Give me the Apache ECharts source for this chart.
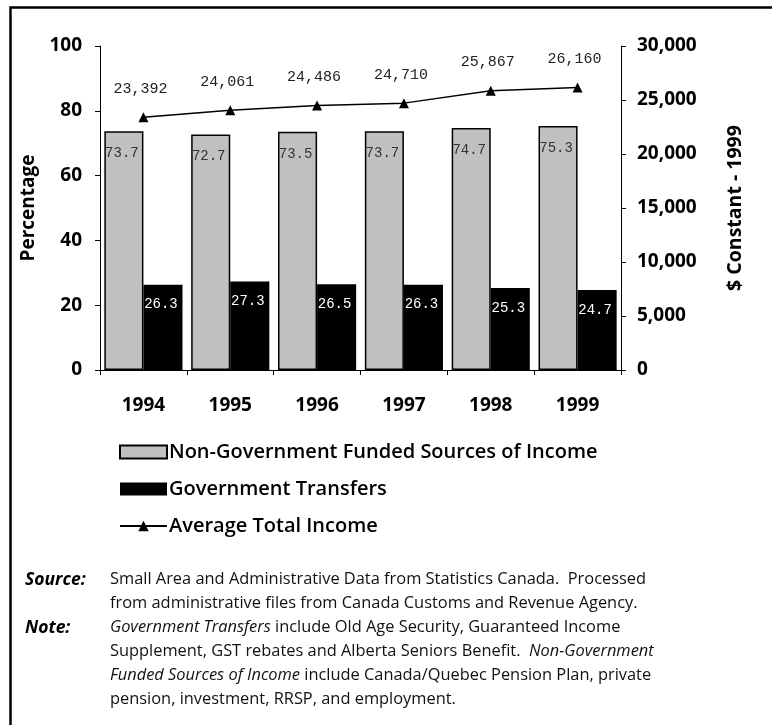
<!DOCTYPE html>
<html>
<head>
<meta charset="utf-8">
<script src="https://cdn.jsdelivr.net/npm/echarts@6/dist/echarts.min.js"></script>
<style>
html,body{margin:0;padding:0;background:#fff;}
#c{width:772px;height:725px;}
</style>
</head>
<body>
<div id="c"></div>
<script>
const years = ['1994','1995','1996','1997','1998','1999'];
const nonGov = [73.7, 72.7, 73.5, 73.7, 74.7, 75.3];
const govTransfers = [26.3, 27.3, 26.5, 26.3, 25.3, 24.7];
const avgIncome = [23392, 24061, 24486, 24710, 25867, 26160];
const leftTicks = {min: 0, max: 100, interval: 20};
const rightTicks = {min: 0, max: 30000, interval: 5000};
const seriesNames = ['Non-Government Funded Sources of Income', 'Government Transfers', 'Average Total Income'];

const SANS = '"Open Sans", "Noto Sans", sans-serif';
const MONO = '"Liberation Mono", "DejaVu Sans Mono", monospace';
const fmt = v => String(v).replace(/\B(?=(\d{3})+(?!\d))/g, ',');

const chart = echarts.init(document.getElementById('c'), null, {renderer: 'canvas'});

const NOTE_FS = 16.4;
const noteFont = {fontFamily: SANS, fontSize: NOTE_FS, fill: '#111'};
function noteLine(x, y, text, rich) {
  return {
    type: 'text', left: x, top: y, silent: true,
    style: Object.assign({text: text, rich: rich || {}}, noteFont)
  };
}
const richI = {i: {fontFamily: SANS, fontSize: NOTE_FS, fontStyle: 'italic', fill: '#111'}};
const richB = {fontFamily: SANS, fontSize: 17.5, fontStyle: 'italic', fontWeight: 'bold', fill: '#000'};

chart.setOption({
  animation: false,
  backgroundColor: '#fff',
  grid: {left: 100, right: 151, top: 46, bottom: 355, containLabel: false},
  legend: {
    orient: 'vertical', left: 114, top: 437,
    itemWidth: 47, itemHeight: 13, itemGap: 17,
    data: [
      {name: seriesNames[0], icon: 'rect'},
      {name: seriesNames[1], icon: 'rect'},
      {name: seriesNames[2]}
    ],
    textStyle: {fontFamily: SANS, fontSize: 20, fontWeight: 600, color: '#000', lineHeight: 20, padding: [0,0,0,-3]}
  },
  xAxis: {
    type: 'category', data: years,
    axisLine: {lineStyle: {color: '#000', width: 1}},
    axisTick: {show: true, length: 5, lineStyle: {color: '#000'}},
    axisLabel: {margin: 26, fontFamily: SANS, fontSize: 19, fontWeight: 'bold', color: '#000'}
  },
  yAxis: [
    {
      type: 'value', min: leftTicks.min, max: leftTicks.max, interval: leftTicks.interval,
      name: 'Percentage', nameLocation: 'middle', nameGap: 46, nameRotate: 90,
      nameTextStyle: {fontFamily: SANS, fontSize: 19, fontWeight: 'bold', color: '#000'},
      axisLine: {show: true, lineStyle: {color: '#000', width: 1}},
      axisTick: {show: true, length: 5, lineStyle: {color: '#000'}},
      splitLine: {show: false},
      axisLabel: {margin: 18, fontFamily: SANS, fontSize: 19, fontWeight: 'bold', color: '#000'}
    },
    {
      type: 'value', min: rightTicks.min, max: rightTicks.max, interval: rightTicks.interval,
      position: 'right',
      name: '$ Constant - 1999', nameLocation: 'middle', nameGap: 104, nameRotate: 90,
      nameTextStyle: {fontFamily: SANS, fontSize: 19.5, fontWeight: 'bold', color: '#000'},
      axisLine: {show: true, lineStyle: {color: '#000', width: 1}},
      axisTick: {show: true, length: 5, lineStyle: {color: '#000'}},
      splitLine: {show: false},
      axisLabel: {margin: 16, fontFamily: SANS, fontSize: 19, fontWeight: 'bold', color: '#000', formatter: v => fmt(v)}
    }
  ],
  series: [
    {
      name: seriesNames[0], type: 'bar', data: nonGov, yAxisIndex: 0,
      barGap: 0, barCategoryGap: '10%',
      itemStyle: {color: '#c0c0c0', borderColor: '#000', borderWidth: 1.5},
      label: {show: true, position: 'insideTop', distance: 14, offset: [-2, 1],
        fontFamily: MONO, fontSize: 14, color: '#333', formatter: p => p.value.toFixed(1)}
    },
    {
      name: seriesNames[1], type: 'bar', data: govTransfers, yAxisIndex: 0,
      barGap: 0, barCategoryGap: '10%',
      itemStyle: {color: '#000'},
      label: {show: true, position: 'insideTop', distance: 12, offset: [-2, 1],
        fontFamily: MONO, fontSize: 14, color: '#fff', formatter: p => p.value.toFixed(1)}
    },
    {
      name: seriesNames[2], type: 'line', data: avgIncome, yAxisIndex: 1,
      symbol: 'triangle', symbolSize: 10,
      lineStyle: {color: '#000', width: 1.5},
      itemStyle: {color: '#000'},
      label: {show: true, position: 'top', distance: 16, offset: [-3, 0],
        fontFamily: MONO, fontSize: 15, color: '#222', formatter: p => fmt(p.value)}
    }
  ],
  graphic: [
    {type: 'polyline', silent: true, shape: {points: [[10.5, 725], [10.5, 7.5], [772, 7.5]]},
     style: {stroke: '#000', lineWidth: 2.5, fill: null}},
    {type: 'text', left: 25, top: 571, silent: true, style: Object.assign({text: 'Source:'}, richB)},
    noteLine(110, 571, 'Small Area and Administrative Data from Statistics Canada.  Processed'),
    noteLine(110, 595, 'from administrative files from Canada Customs and Revenue Agency.'),
    {type: 'text', left: 25, top: 619, silent: true, style: Object.assign({text: 'Note:'}, richB)},
    noteLine(110, 619, '{i|Government Transfers} include Old Age Security, Guaranteed Income', richI),
    noteLine(110, 643, 'Supplement, GST rebates and Alberta Seniors Benefit.  {i|Non-Government}', richI),
    noteLine(110, 667, '{i|Funded Sources of Income} include Canada/Quebec Pension Plan, private', richI),
    noteLine(110, 691, 'pension, investment, RRSP, and employment.')
  ]
});
</script>
</body>
</html>
